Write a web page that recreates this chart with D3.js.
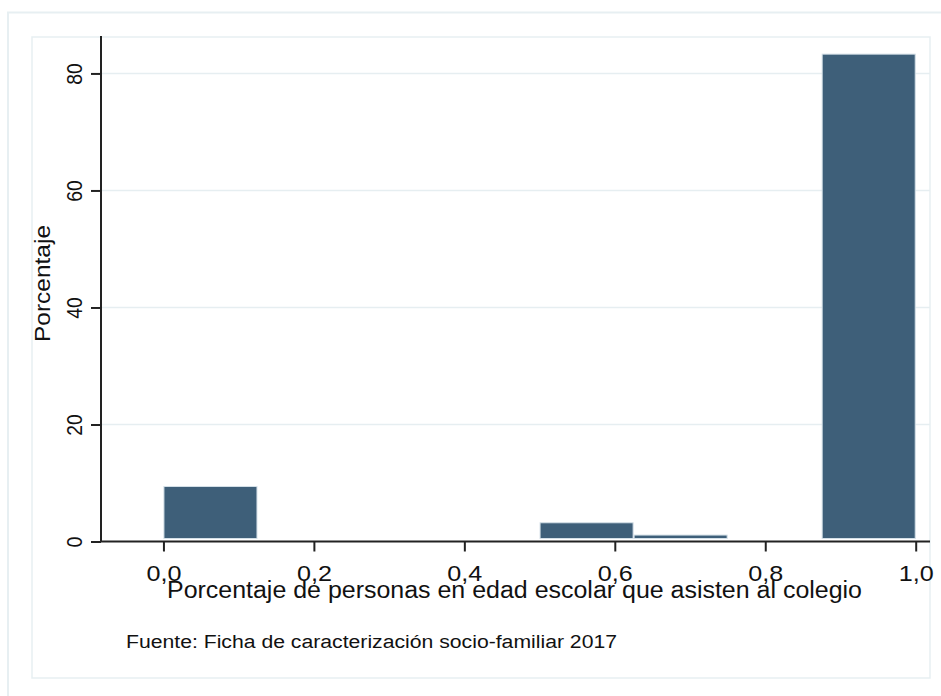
<!DOCTYPE html>
<html><head><meta charset="utf-8">
<script src="https://cdn.jsdelivr.net/npm/d3@7"></script>
<style>
body{margin:0;background:#fff;}
text{font-family:"Liberation Sans",Arial,sans-serif;fill:#111;}
</style></head>
<body>
<svg id="c" width="941" height="696"></svg>
<script>
const binStarts = [0.0, 0.5, 0.625, 0.875];
const binWidth = 0.125;
const percentages = [9.4, 3.2, 1.1, 83.3];
const yTicks = [0, 20, 40, 60, 80];
const xTicks = [0.0, 0.2, 0.4, 0.6, 0.8, 1.0];
const yTitle = "Porcentaje";
const xTitle = "Porcentaje de personas en edad escolar que asisten al colegio";
const caption = "Fuente: Ficha de caracterización socio-familiar 2017";

const svg = d3.select("#c");
// frames
svg.append("rect").attr("x",8).attr("y",12.5).attr("width",960).attr("height",720)
  .attr("fill","#fff").attr("stroke","#e7eff2").attr("stroke-width",2);
svg.append("rect").attr("x",32).attr("y",37).attr("width",898).attr("height",641)
  .attr("fill","#fff").attr("stroke","#e7eff2").attr("stroke-width",1.5);

const x = d3.scaleLinear().domain([-0.083, 1.019]).range([101, 930]);
const y = d3.scaleLinear().domain([0, 86.4]).range([541.5, 36]);

// gridlines
svg.append("g").selectAll("line").data(yTicks.filter(d=>d>0)).join("line")
  .attr("x1",101).attr("x2",930).attr("y1",d=>y(d)).attr("y2",d=>y(d))
  .attr("stroke","#e6eef1").attr("stroke-width",1.5);

// bars
svg.append("g").selectAll("rect").data(binStarts).join("rect")
  .attr("x",(d)=>x(d)+0.5)
  .attr("width",(d)=>x(d+binWidth)-x(d)-1)
  .attr("y",(d,i)=>y(percentages[i]))
  .attr("height",(d,i)=>y(0)-y(percentages[i])-3)
  .attr("fill","#3e5f79").attr("stroke","#d3dfe7").attr("stroke-width",1);

const fmt = d => d.toFixed(1).replace(".", ",");

// x axis
const gx = svg.append("g").attr("transform","translate(0,541.5)")
  .call(d3.axisBottom(x).tickValues(xTicks).tickSize(10).tickFormat(fmt));
gx.select(".domain").attr("stroke","#222").attr("stroke-width",2.2).attr("d","M101,0H930");
gx.selectAll(".tick line").attr("stroke","#222").attr("stroke-width",2);
gx.selectAll(".tick text").attr("y",39.5).attr("dy",0)
  .attr("font-size",22).attr("fill","#111")
  .attr("textLength",35).attr("lengthAdjust","spacingAndGlyphs")
  .style("font-family","'Liberation Sans',Arial,sans-serif");

// y axis
const gy = svg.append("g").attr("transform","translate(101,0)")
  .call(d3.axisLeft(y).tickValues(yTicks).tickSize(10));
gy.select(".domain").attr("stroke","#222").attr("stroke-width",2).attr("d","M0,36V541.5");
gy.selectAll(".tick line").attr("stroke","#222").attr("stroke-width",2);
gy.selectAll(".tick text").attr("x",0).attr("y",-19).attr("dy",0)
  .attr("transform","rotate(-90)").attr("text-anchor","middle")
  .attr("font-size",22).attr("fill","#111")
  .attr("textLength",d=>d===0?11:21.5).attr("lengthAdjust","spacingAndGlyphs")
  .style("font-family","'Liberation Sans',Arial,sans-serif");

// titles
svg.append("text").attr("transform","translate(50,283.5) rotate(-90)")
  .attr("text-anchor","middle").attr("font-size",22)
  .attr("textLength",117).attr("lengthAdjust","spacingAndGlyphs").text(yTitle);
svg.append("text").attr("x",514.5).attr("y",597.7)
  .attr("text-anchor","middle").attr("font-size",23)
  .attr("textLength",695).attr("lengthAdjust","spacingAndGlyphs").text(xTitle);
svg.append("text").attr("x",126).attr("y",648)
  .attr("font-size",18)
  .attr("textLength",491).attr("lengthAdjust","spacingAndGlyphs").text(caption);
</script>
</body></html>
